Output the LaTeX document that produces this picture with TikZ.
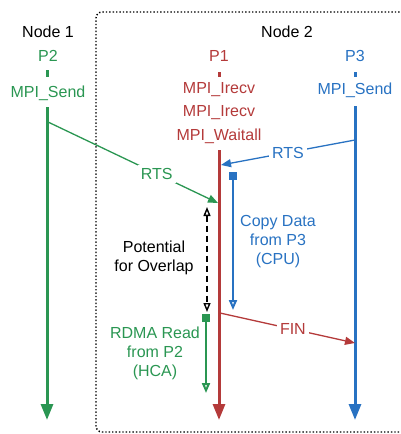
\documentclass[tikz,border=0pt]{standalone}
\usepackage{fontspec}
\setmainfont{Liberation Sans}
\usetikzlibrary{arrows.meta}
\definecolor{cgreen}{RGB}{42,150,82}
\definecolor{cred}{RGB}{180,58,58}
\definecolor{cblue}{RGB}{40,114,194}
\begin{document}
\begin{tikzpicture}[x=1pt,y=-1pt,
  lbl/.style={font=\fontsize{16}{19}\selectfont, inner sep=1pt},
  cut/.style={lbl, fill=white, inner sep=3pt},
  proc/.style={line width=3pt, -{Triangle[width=12pt,length=16pt]}},
  tick/.style={line width=3pt},
  msg/.style={line width=1.3pt, -{Triangle[width=8pt,length=10pt]}},
  open/.style={line width=1.5pt, -{Triangle[open,width=8pt,length=10pt,fill=white]}},
  sq/.style={draw=none, minimum size=8pt, inner sep=0pt}]
\useasboundingbox (0,0) rectangle (401,434);
% node 2 box
\draw[line width=1.4pt, dotted, rounded corners=6pt] (420,12) -- (96,12) -- (96,432) -- (420,432);
\node[lbl] (n1) at (48,32) {Node 1};
\node[lbl] (n2) at (287,32) {Node 2};
% P2
\node[lbl, text=cgreen] (p2) at (48,56) {P2};
\node[lbl, text=cgreen] (p2s) at (48,93) {MPI\_Send};
\coordinate (p2t1) at (47,70); \coordinate (p2t2) at (47,77);
\coordinate (p2a) at (47,107); \coordinate (p2b) at (47,420);
\draw[tick, cgreen] (p2t1) -- (p2t2);
\draw[proc, cgreen] (p2a) -- (p2b);
% P1
\node[lbl, text=cred] (p1) at (219,56) {P1};
\node[lbl, text=cred] (p1a) at (219,90) {MPI\_Irecv};
\node[lbl, text=cred] (p1b) at (219,113) {MPI\_Irecv};
\node[lbl, text=cred] (p1c) at (219,136) {MPI\_Waitall};
\coordinate (p1t1) at (219,72); \coordinate (p1t2) at (219,77);
\coordinate (p1s) at (219,150); \coordinate (p1e) at (219,420);
\draw[tick, cred] (p1t1) -- (p1t2);
\draw[proc, cred] (p1s) -- (p1e);
% P3
\node[lbl, text=cblue] (p3) at (355,56) {P3};
\node[lbl, text=cblue] (p3s) at (355,90) {MPI\_Send};
\coordinate (p3t1) at (355,72); \coordinate (p3t2) at (355,77);
\coordinate (p3a) at (355,106); \coordinate (p3b) at (355,420);
\draw[tick, cblue] (p3t1) -- (p3t2);
\draw[proc, cblue] (p3a) -- (p3b);
% green RTS
\coordinate (g1) at (48,122); \coordinate (g2) at (218,203);
\draw[msg, cgreen] (g1) -- node[cut, text=cgreen, pos=0.64] (grts) {RTS} (g2);
% blue RTS
\coordinate (b1) at (355,140); \coordinate (b2) at (221,165);
\draw[msg, cblue] (b1) -- node[cut, text=cblue, pos=0.5] (brts) {RTS} (b2);
% Copy data
\node[sq, fill=cblue] (cpsq) at (233,176) {};
\coordinate (cpe) at (233,310);
\draw[open, cblue, line width=2pt] (cpsq.center) -- (cpe);
\node[lbl, text=cblue, align=center] (cpl) at (278,242) {Copy Data\\from P3\\(CPU)};
% potential overlap
\coordinate (ov1) at (207,207); \coordinate (ov2) at (207,312);
\draw[line width=1.4pt, dash pattern=on 6pt off 4pt, {Triangle[open,width=7pt,length=9pt,fill=white]}-{Triangle[open,width=7pt,length=9pt,fill=white]}] (ov1) -- (ov2);
\node[lbl, align=center] (ovl) at (154,258) {Potential\\for Overlap};
% RDMA
\node[sq, fill=cgreen] (rdsq) at (206,318) {};
\coordinate (rde) at (206,393);
\draw[open, cgreen, line width=2pt] (rdsq.center) -- (rde);
\node[lbl, text=cgreen, align=center] (rdl) at (155,353) {RDMA Read\\from P2\\(HCA)};
% FIN
\coordinate (f1) at (220,313); \coordinate (f2) at (355,343);
\draw[msg, cred] (f1) -- node[cut, text=cred, pos=0.54] (fin) {FIN} (f2);
\end{tikzpicture}
\end{document}
